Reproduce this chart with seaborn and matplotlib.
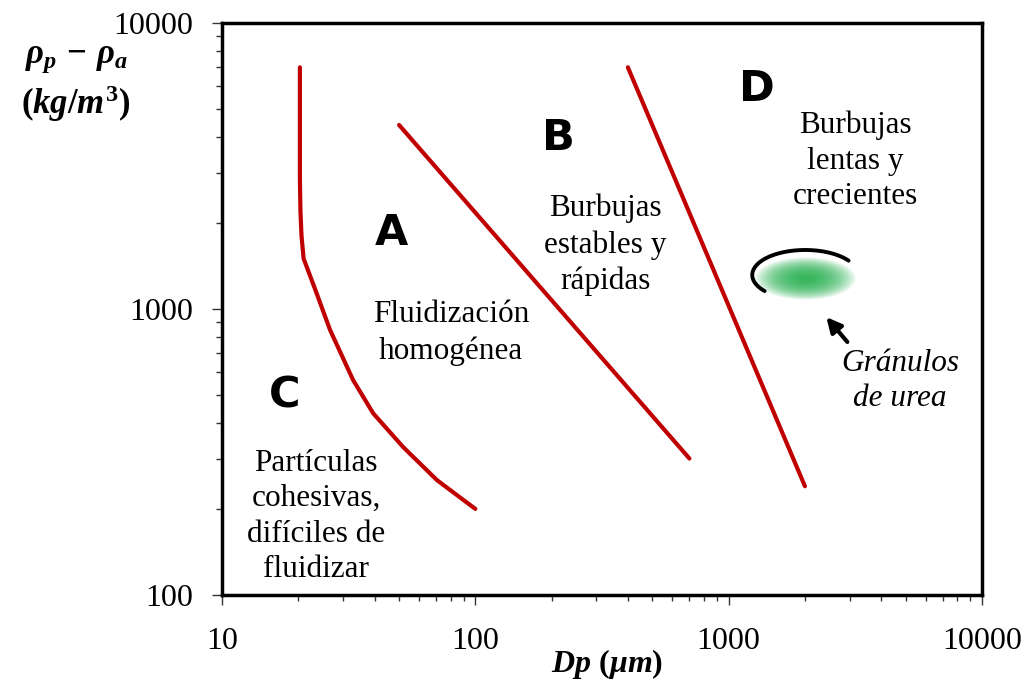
import numpy as np
import pandas as pd
import matplotlib
matplotlib.use("Agg")
import matplotlib.pyplot as plt
from matplotlib.path import Path
import seaborn as sns

# ---------------- data ----------------
# Boundary C/A (cohesive limit)
ca_dp = [20.3, 20.3, 20.4, 20.6, 21.0, 23.5, 26.7, 32.9, 39.5, 51.9, 70.6, 100]
ca_rho = [7000, 2825, 2200, 1800, 1500, 1150, 845, 565, 432, 329, 252, 200]
# Boundary A/B
ab_dp = [50, 700]
ab_rho = [4400, 300]
# Boundary B/D
bd_dp = [400, 2000]
bd_rho = [7000, 240]

# Region letters
letters = ["A", "B", "C", "D"]
letter_dp = [46.5, 212, 17.6, 1295]
letter_rho = [1846, 3965, 500, 5880]

# Region descriptions
desc_text = ["Fluidización\nhomogénea",
             "Burbujas\nestables y\nrápidas",
             "Partículas\ncohesivas,\ndifíciles de\nfluidizar",
             "Burbujas\nlentas y\ncrecientes"]
desc_dp = [80, 325, 23.5, 3155]
desc_rho = [824, 1675, 188, 3290]

# Urea granules
urea_dp = 2005
urea_rho = 1283
urea_label = "Gránulos\nde urea"
urea_label_dp = 4750
urea_label_rho = 560
arrow_tip = (2430, 937)
arrow_tail = (2940, 767)

x_ticks = [10, 100, 1000, 10000]
y_ticks = [100, 1000, 10000]

# ---------------- style ----------------
sns.set_style("ticks")
plt.rcParams["font.family"] = ["Liberation Serif", "DejaVu Serif"]
plt.rcParams["text.color"] = "black"
plt.rcParams["axes.labelcolor"] = "black"
plt.rcParams["xtick.color"] = "black"
plt.rcParams["ytick.color"] = "black"
plt.rcParams["mathtext.fontset"] = "custom"
plt.rcParams["mathtext.it"] = "Liberation Serif:italic:bold"
plt.rcParams["mathtext.rm"] = "Liberation Serif:bold"
plt.rcParams["mathtext.bf"] = "Liberation Serif:bold"

RED = "#C00000"

fig = plt.figure(figsize=(10.25, 6.84), dpi=100)
ax = fig.add_axes([222 / 1025, 1 - 595 / 684, 760 / 1025, 572 / 684])

df = pd.concat([
    pd.DataFrame({"dp": ca_dp, "rho": ca_rho, "curve": "CA"}),
    pd.DataFrame({"dp": ab_dp, "rho": ab_rho, "curve": "AB"}),
    pd.DataFrame({"dp": bd_dp, "rho": bd_rho, "curve": "BD"}),
], ignore_index=True)

sns.lineplot(data=df, x="dp", y="rho", units="curve", estimator=None,
             sort=False, color=RED, lw=3, ax=ax, legend=False,
             solid_capstyle="round", solid_joinstyle="round")

ax.set_xscale("log")
ax.set_yscale("log")
ax.set_xlim(x_ticks[0], x_ticks[-1])
ax.set_ylim(y_ticks[0], y_ticks[-1])
ax.set_xticks(x_ticks)
ax.set_xticklabels([str(t) for t in x_ticks])
ax.set_yticks(y_ticks)
ax.set_yticklabels([str(t) for t in y_ticks])

for s in ax.spines.values():
    s.set_linewidth(2.5)
    s.set_color("black")
    s.set_visible(True)

ax.tick_params(axis="both", which="major", direction="out", length=7,
               width=1.0, color="#333333", labelsize=23, pad=14,
               labelcolor="black", bottom=True, left=True)
ax.tick_params(axis="both", which="minor", direction="out", length=4.5,
               width=1.0, color="#333333", bottom=True, left=True)
ax.tick_params(axis="x", which="major", pad=16)

# labels
ax.set_xlabel(r"$Dp\ (\mu m)$", fontsize=23, va="center")
ax.xaxis.set_label_coords(0.507, -0.12)
ax.set_ylabel(r"$\rho_p\,-\,\rho_a$" + "\n" + r"$(kg/m^3)$", fontsize=25,
              rotation=0, ha="center", va="center", linespacing=1.25)
ax.yaxis.set_label_coords(-0.192, 0.895)

# region letters
for t, x, y in zip(letters, letter_dp, letter_rho):
    ax.text(x, y, t, fontsize=31, fontweight="bold", family="DejaVu Sans",
            ha="center", va="center", color="black")

# region descriptions
for t, x, y in zip(desc_text, desc_dp, desc_rho):
    ax.text(x, y, t, fontsize=22.5, ha="center", va="center", linespacing=1.3)

# urea blob (soft green ellipse)
theta = np.linspace(0, 2 * np.pi, 60)
ell = Path(np.column_stack([np.cos(theta), 0.42 * np.sin(theta)]))
sizes = np.linspace(72, 8, 18) ** 2
for s in sizes:
    ax.scatter([urea_dp], [urea_rho], s=s, marker=ell, color="#22B04B",
               alpha=0.11, linewidths=0, zorder=3)

# black partial outline around the blob
lx0, ly0 = np.log10(urea_dp), np.log10(1315)
ang = np.radians(np.linspace(35, 220, 80))
arc_x = 10 ** (lx0 + 0.209 * np.cos(ang))
arc_y = 10 ** (ly0 + 0.0874 * np.sin(ang))
ax.plot(arc_x, arc_y, color="black", lw=2.8, zorder=4)

# arrow and label
ax.annotate("", xy=arrow_tip, xytext=arrow_tail,
            arrowprops=dict(arrowstyle="-|>", color="black", lw=3,
                            mutation_scale=22, shrinkA=0, shrinkB=0))
ax.text(urea_label_dp, urea_label_rho, urea_label, fontsize=22.5,
        style="italic", ha="center", va="center", linespacing=1.3)

fig.savefig("out.png", dpi=100, facecolor="white")
